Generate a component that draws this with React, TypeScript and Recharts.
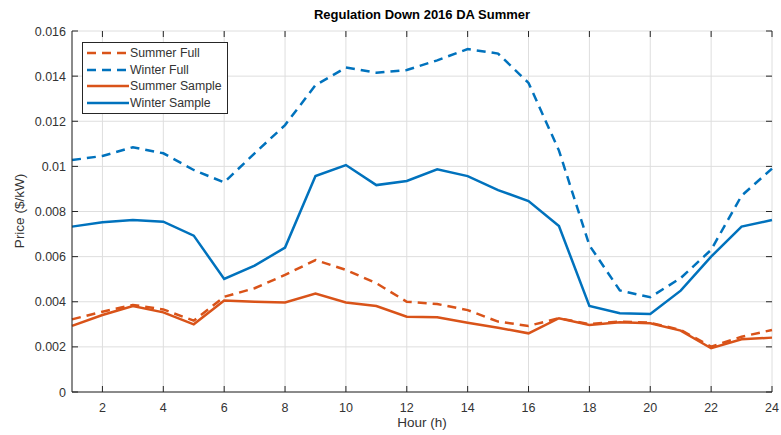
import { LineChart, Line, XAxis, YAxis, CartesianGrid } from 'recharts';

const hours = [1, 2, 3, 4, 5, 6, 7, 8, 9, 10, 11, 12, 13, 14, 15, 16, 17, 18, 19, 20, 21, 22, 23, 24];

const summerFull = [
    0.00322, 0.00356, 0.00386, 0.00366, 0.00316, 0.00422, 0.0046, 0.00519, 0.00585, 0.00541, 0.00482, 0.00400,
    0.0039, 0.00363, 0.00312, 0.00293, 0.00327, 0.00301, 0.00312, 0.00307, 0.00275, 0.00201, 0.00245, 0.00275,
];
const winterFull = [
    0.01028, 0.01046, 0.01085, 0.01058, 0.00984, 0.00929, 0.01058, 0.01183, 0.0136, 0.01438, 0.01415, 0.01427,
    0.0147, 0.0152, 0.0150, 0.0137, 0.0107, 0.0065, 0.0045, 0.0042, 0.00505, 0.0063, 0.0087, 0.0099,
];
const summerSample = [
    0.00293, 0.00341, 0.00381, 0.00353, 0.003, 0.00405, 0.004, 0.00397, 0.00436, 0.00397, 0.00381, 0.00334,
    0.00331, 0.00307, 0.00285, 0.0026, 0.00327, 0.00297, 0.00309, 0.00305, 0.00272, 0.00194, 0.00234, 0.00241,
];
const winterSample = [
    0.00733, 0.00752, 0.00762, 0.00755, 0.00693, 0.00501, 0.0056, 0.0064, 0.00957, 0.01006, 0.00917, 0.00935,
    0.00987, 0.00957, 0.00895, 0.00846, 0.00736, 0.00381, 0.00349, 0.00346, 0.00449, 0.006, 0.00733, 0.00762,
];

const xTicks = [2, 4, 6, 8, 10, 12, 14, 16, 18, 20, 22, 24];
const yTicks = [0, 0.002, 0.004, 0.006, 0.008, 0.01, 0.012, 0.014, 0.016];

const data = hours.map((h, i) => ({
    hour: h,
    summerFull: summerFull[i],
    winterFull: winterFull[i],
    summerSample: summerSample[i],
    winterSample: winterSample[i],
}));

const W = 781;
const H = 435;
const PLOT_L = 72;
const PLOT_R = 772;
const PLOT_T = 31;
const PLOT_B = 392;

const BLUE = '#0072BD';
const ORANGE = '#D95319';
const AXIS = '#262626';
const FONT = '"Liberation Sans", Arial, sans-serif';
const DASH = '9 6';

const legendItems = [
    { label: 'Summer Full', color: ORANGE, dash: DASH },
    { label: 'Winter Full', color: BLUE, dash: DASH },
    { label: 'Summer Sample', color: ORANGE, dash: undefined },
    { label: 'Winter Sample', color: BLUE, dash: undefined },
];

const XTick = ({ x, y, payload }: any) => (
    <g>
        <line x1={x} x2={x} y1={PLOT_B} y2={PLOT_B - 6} stroke={AXIS} strokeWidth={1} />
        <line x1={x} x2={x} y1={PLOT_T} y2={PLOT_T + 6} stroke={AXIS} strokeWidth={1} />
        <text x={x} y={y} dy={12} textAnchor="middle" fill="#333" fontSize={12.5} fontFamily={FONT}>
            {payload.value}
        </text>
    </g>
);

const YTick = ({ x, y, payload }: any) => (
    <g>
        <line x1={PLOT_L} x2={PLOT_L + 6} y1={y} y2={y} stroke={AXIS} strokeWidth={1} />
        <line x1={PLOT_R - 6} x2={PLOT_R} y1={y} y2={y} stroke={AXIS} strokeWidth={1} />
        <text x={x} y={y} dy={4.5} textAnchor="end" fill="#333" fontSize={12.5} fontFamily={FONT}>
            {payload.value}
        </text>
    </g>
);

// legend drawn as plain html so it takes no room from the plot
const LegendBox = () => (
    <div
        style={{
            position: 'absolute',
            left: 82,
            top: 42,
            border: `1px solid ${AXIS}`,
            background: '#fff',
            padding: '2px 5px 2px 3px',
            fontFamily: FONT,
            fontSize: 12.3,
            color: '#333',
            lineHeight: '16.5px',
        }}
    >
        {legendItems.map((item) => (
            <div key={item.label} style={{ display: 'flex', alignItems: 'center', whiteSpace: 'nowrap' }}>
                <svg width={43} height={10} style={{ marginRight: 1 }}>
                    <line x1={1} x2={43} y1={5} y2={5} stroke={item.color} strokeWidth={2.5} strokeDasharray={item.dash} />
                </svg>
                <span>{item.label}</span>
            </div>
        ))}
    </div>
);

export default function App() {
    return (
        <div style={{ position: 'fixed', left: 0, top: 0, width: W, height: H, background: '#fff' }}>
            <LineChart width={W} height={H} data={data} margin={{ top: PLOT_T, right: W - PLOT_R, bottom: 0, left: 0 }}>
                <CartesianGrid stroke="#dedede" strokeWidth={1} />
                <XAxis
                    dataKey="hour"
                    type="number"
                    domain={[1, 24]}
                    ticks={xTicks}
                    height={H - PLOT_B}
                    tickSize={0}
                    tickMargin={8}
                    tick={<XTick />}
                    axisLine={{ stroke: AXIS }}
                    interval={0}
                />
                <XAxis
                    xAxisId="top"
                    orientation="top"
                    dataKey="hour"
                    type="number"
                    domain={[1, 24]}
                    height={0}
                    tick={false}
                    tickLine={false}
                    axisLine={{ stroke: AXIS }}
                />
                <YAxis
                    type="number"
                    domain={[0, 0.016]}
                    ticks={yTicks}
                    width={PLOT_L}
                    tickSize={0}
                    tickMargin={6}
                    tick={<YTick />}
                    axisLine={{ stroke: AXIS }}
                    interval={0}
                />
                <YAxis
                    yAxisId="right"
                    orientation="right"
                    type="number"
                    domain={[0, 0.016]}
                    width={0}
                    tick={false}
                    tickLine={false}
                    axisLine={{ stroke: AXIS }}
                />
                <Line dataKey="summerFull" stroke={ORANGE} strokeWidth={2.5} strokeDasharray={DASH} dot={false} isAnimationActive={false} />
                <Line dataKey="winterFull" stroke={BLUE} strokeWidth={2.5} strokeDasharray={DASH} dot={false} isAnimationActive={false} />
                <Line dataKey="summerSample" stroke={ORANGE} strokeWidth={2.5} dot={false} isAnimationActive={false} />
                <Line dataKey="winterSample" stroke={BLUE} strokeWidth={2.5} dot={false} isAnimationActive={false} />
            </LineChart>
            <LegendBox />
            <div
                style={{
                    position: 'absolute', left: PLOT_L, width: PLOT_R - PLOT_L, top: 7, textAlign: 'center',
                    fontFamily: FONT, fontSize: 13, fontWeight: 'bold', color: '#000',
                }}
            >
                Regulation Down 2016 DA Summer
            </div>
            <div
                style={{
                    position: 'absolute', left: PLOT_L, width: PLOT_R - PLOT_L, top: 415, textAlign: 'center',
                    fontFamily: FONT, fontSize: 13.5, color: '#333',
                }}
            >
                Hour (h)
            </div>
            <div
                style={{
                    position: 'absolute', left: 19, top: 211, transform: 'translate(-50%, -50%) rotate(-90deg)',
                    whiteSpace: 'nowrap', fontFamily: FONT, fontSize: 13.5, color: '#333',
                }}
            >
                Price ($/kW)
            </div>
        </div>
    );
}
